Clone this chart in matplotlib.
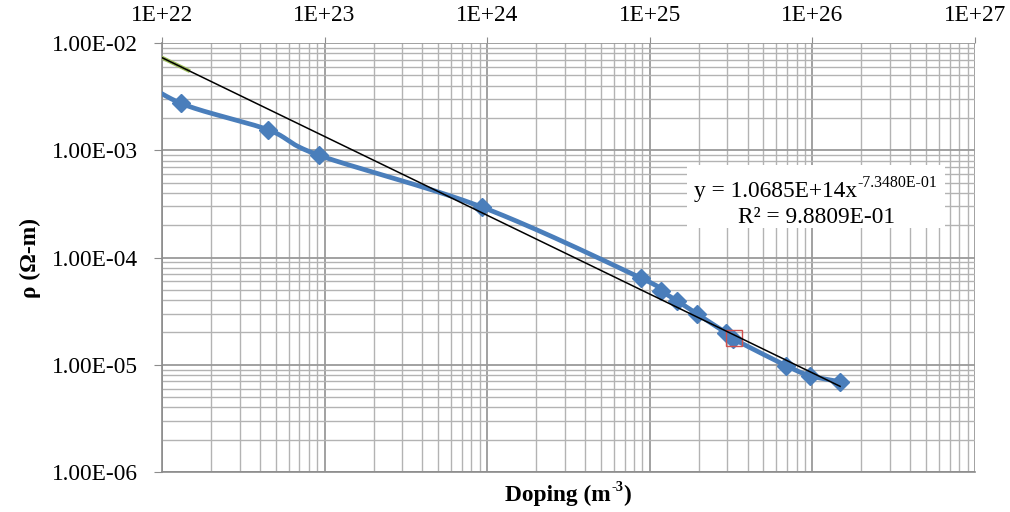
import numpy as np
import matplotlib
matplotlib.use("Agg")
import matplotlib.pyplot as plt
from matplotlib.ticker import FixedLocator, FuncFormatter, LogLocator, NullFormatter
from matplotlib.patches import Rectangle

plt.rcParams["font.family"] = ["Liberation Serif", "DejaVu Serif"]

# Doping concentration (m^-3) and measured resistivity (ohm-m)
doping = [6.0e21, 1.3e22, 4.5e22, 9.2e22, 9.3e23, 8.8e24, 1.17e25, 1.47e25,
          1.95e25, 2.95e25, 3.25e25, 6.9e25, 9.7e25, 1.48e26]
resistivity = [5.6e-3, 2.75e-3, 1.55e-3, 9.0e-4, 2.95e-4, 6.45e-5, 4.9e-5, 3.95e-5,
               2.98e-5, 1.98e-5, 1.75e-5, 9.8e-6, 7.9e-6, 6.95e-6]

# Highlighted sample
highlight_x = [3.3e25]
highlight_y = [1.78e-5]

# Power-law trendline y = a * x^b
fit_a = 1.0685e14
fit_b = -7.3480e-01
fit_r2 = 9.8809e-01
fit_range = [6.0e21, 1.48e26]

# Short secondary series segment near the left edge
green_x = [1.0e22, 1.45e22]

x_ticks = [1e22, 1e23, 1e24, 1e25, 1e26, 1e27]
y_ticks = [1e-6, 1e-5, 1e-4, 1e-3, 1e-2]

W, H = 1010, 512
FS = 16.8


def smooth_curve(xs, ys, n=40):
    """Catmull-Rom (Bezier form) smoothing in log-log space."""
    P = np.column_stack([np.log10(xs), np.log10(ys)])
    P = np.vstack([P[0], P, P[-1]])
    out = []
    t = np.linspace(0, 1, n)[:, None]
    for i in range(1, len(P) - 2):
        p0, p1, p2, p3 = P[i - 1], P[i], P[i + 1], P[i + 2]
        c1 = p1 + (p2 - p0) / 6.0
        c2 = p2 - (p3 - p1) / 6.0
        seg = ((1 - t) ** 3) * p1 + 3 * ((1 - t) ** 2) * t * c1 \
            + 3 * (1 - t) * t ** 2 * c2 + t ** 3 * p2
        out.append(seg if i == 1 else seg[1:])
    out = np.vstack(out)
    return 10 ** out[:, 0], 10 ** out[:, 1]


def rich_text(fig, cx, cy, pieces, size, weight="normal", sup_scale=0.68, zorder=8):
    """Draw a line of text made of (string, is_superscript) pieces, centred at pixel (cx, cy)."""
    renderer = fig.canvas.get_renderer()
    arts = []
    widths = []
    for s, sup in pieces:
        fs = size * sup_scale if sup else size
        t = fig.text(0, 0, s, fontsize=fs, fontweight=weight, ha="left",
                     va="baseline", zorder=zorder)
        widths.append(t.get_window_extent(renderer).width)
        arts.append((t, sup))
    total = sum(widths)
    x = cx - total / 2
    base = cy + size * 0.33 * 100 / 72  # baseline in pixels from top
    for (t, sup), w in zip(arts, widths):
        yb = base - (size * 0.43 * 100 / 72 if sup else 0)
        t.set_position((x / W, 1 - yb / H))
        x += w
    return arts


fig = plt.figure(figsize=(W / 100, H / 100), dpi=100)
ax = fig.add_axes([162 / W, 1 - 472 / H, (975 - 162) / W, (472 - 43) / H])
ax.set_xscale("log")
ax.set_yscale("log")
ax.set_xlim(1e22, 1e27)
ax.set_ylim(1e-6, 1e-2)

# Grid
ax.xaxis.set_minor_locator(LogLocator(base=10, subs=np.arange(2, 10), numticks=20))
ax.yaxis.set_minor_locator(LogLocator(base=10, subs=np.arange(2, 10), numticks=20))
ax.xaxis.set_minor_formatter(NullFormatter())
ax.yaxis.set_minor_formatter(NullFormatter())
ax.grid(which="major", color="#9a9a9a", lw=1.3)
ax.grid(which="minor", color="#b3b3b3", lw=1.0)
ax.set_axisbelow(True)

# Series
sx, sy = smooth_curve(doping, resistivity)
ax.plot(sx, sy, color="#4A7EBB", lw=3.4, zorder=3, solid_capstyle="round")
ax.plot(doping, resistivity, ls="none", marker="D", ms=9.5, color="#4A7EBB", zorder=4)
ax.plot(highlight_x, highlight_y, ls="none", marker="s", ms=11.5, mfc="none",
        mec="#D0504D", mew=1.0, zorder=5)

gx = np.array(green_x)
ax.plot(gx, fit_a * gx ** fit_b, color="#9BBB59", lw=2.8, zorder=5)

tx = np.logspace(np.log10(fit_range[0]), np.log10(fit_range[1]), 200)
ax.plot(tx, fit_a * tx ** fit_b, color="black", lw=1.1, zorder=6)

# Axes styling
for side in ["top", "right"]:
    ax.spines[side].set_visible(False)
for side in ["left", "bottom"]:
    ax.spines[side].set_color("#8c8c8c")
    ax.spines[side].set_linewidth(1.2)

ax.xaxis.set_major_locator(FixedLocator(x_ticks))
ax.yaxis.set_major_locator(FixedLocator(y_ticks))
ax.xaxis.set_major_formatter(FuncFormatter(lambda v, p: f"{v:.0E}"))
ax.yaxis.set_major_formatter(FuncFormatter(lambda v, p: f"{v:.2E}"))
ax.xaxis.tick_top()
ax.tick_params(axis="x", which="major", length=4, color="#8c8c8c", labelsize=FS, pad=8.5)
ax.tick_params(axis="y", which="major", length=6, color="#8c8c8c", labelsize=FS, pad=11)
ax.tick_params(which="minor", length=0)

ax.set_ylabel("ρ (Ω-m)", fontsize=FS, fontweight="bold", labelpad=8)
rich_text(fig, 568, 493, [("Doping (m", False), ("-3", True), (")", False)],
          FS, weight="bold", sup_scale=0.62)

# Trendline equation box
box_px = (687, 165, 945, 228)
fig.patches.append(Rectangle((box_px[0] / W, 1 - box_px[3] / H),
                             (box_px[2] - box_px[0]) / W, (box_px[3] - box_px[1]) / H,
                             transform=fig.transFigure, facecolor="white",
                             edgecolor="none", zorder=7))
rich_text(fig, 816, 189, [(f"y = {fit_a:.4E}x", False), (f"{fit_b:.4E}", True)], FS)
rich_text(fig, 816, 215, [(f"R² = {fit_r2:.4E}", False)], FS)

fig.savefig("out.png", dpi=100)
